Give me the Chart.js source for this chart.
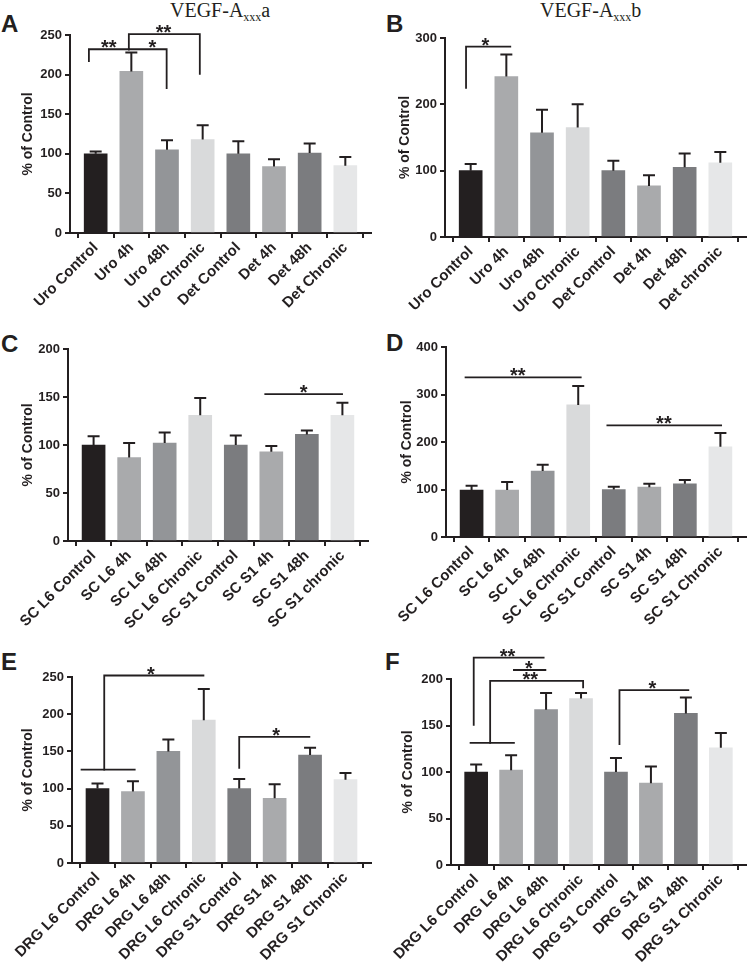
<!DOCTYPE html>
<html><head><meta charset="utf-8">
<script src="https://cdn.jsdelivr.net/npm/chart.js@4.4.1/dist/chart.umd.min.js"></script>
<style>
body{margin:0;background:#fff;width:749px;height:962px;position:relative;overflow:hidden}
canvas{position:absolute}
.lbl{position:absolute;font:bold 24px "Liberation Sans",Arial,sans-serif;color:#231f20;line-height:1}
.ttl{position:absolute;font:20px "Liberation Serif","Times New Roman",serif;color:#231f20;line-height:1;white-space:nowrap}
.ttl sub{font-size:12px;vertical-align:-4px;line-height:0}
</style></head><body>
<div class="lbl" style="left:1px;top:12px">A</div>
<div class="lbl" style="left:386px;top:12px">B</div>
<div class="lbl" style="left:1px;top:332px">C</div>
<div class="lbl" style="left:386px;top:331px">D</div>
<div class="lbl" style="left:1px;top:650px">E</div>
<div class="lbl" style="left:385px;top:650px">F</div>
<div class="ttl" style="left:170px;top:0px">VEGF-A<sub>xxx</sub>a</div>
<div class="ttl" style="left:540px;top:0px">VEGF-A<sub>xxx</sub>b</div>
<canvas id="cA" width="375" height="330" style="left:0;top:0"></canvas>
<canvas id="cB" width="374" height="330" style="left:375px;top:0"></canvas>
<canvas id="cC" width="375" height="310" style="left:0;top:330px"></canvas>
<canvas id="cD" width="374" height="310" style="left:375px;top:330px"></canvas>
<canvas id="cE" width="375" height="322" style="left:0;top:640px"></canvas>
<canvas id="cF" width="374" height="322" style="left:375px;top:640px"></canvas>
<script>
// ---- data ----
const catsA = ['Uro Control','Uro 4h','Uro 48h','Uro Chronic','Det Control','Det 4h','Det 48h','Det Chronic'];
const catsB = ['Uro Control','Uro 4h','Uro 48h','Uro Chronic','Det Control','Det 4h','Det 48h','Det chronic'];
const catsC = ['SC L6 Control','SC L6 4h','SC L6 48h','SC L6 Chronic','SC S1 Control','SC S1 4h','SC S1 48h','SC S1 chronic'];
const catsD = ['SC L6 Control','SC L6 4h','SC L6 48h','SC L6 Chronic','SC S1 Control','SC S1 4h','SC S1 48h','SC S1 Chronic'];
const catsEF = ['DRG L6 Control','DRG L6 4h','DRG L6 48h','DRG L6 Chronic','DRG S1 Control','DRG S1 4h','DRG S1 48h','DRG S1 Chronic'];

const meanA = [100,204,105,118,100,84,101,85];
const semA  = [3,24,12,18,16,9,12,11];
const meanB = [100,242,157,165,100,77,105,112];
const semB  = [10,33,35,35,15,16,21,16];
const meanC = [100,87,102,131,100,93,111,131];
const semC  = [9,15,11,18,10,6,4,13];
const meanD = [99,99,139,278,100,105,112,190];
const semD  = [9,17,13,40,6,7,8,29];
const meanE = [100,96,150,192,100,87,145,112];
const semE  = [7,14,16,42,13,19,10,9];
const meanF = [100,102,167,179,100,88,163,126];
const semF  = [8,16,18,6,15,18,17,16];

const yTicksA = [0,50,100,150,200,250];
const yTicksB = [0,100,200,300];
const yTicksC = [0,50,100,150,200];
const yTicksD = [0,100,200,300,400];
const yTicksE = [0,50,100,150,200,250];
const yTicksF = [0,50,100,150,200];

// significance annotations (category index, value)
const sigA = [
  {x1:-0.19,x2:0.93,y:232,d1:217,t:'**',tx:0.37},
  {x1:0.93,x2:1.99,y:232,d2:183,t:'*',tx:1.59},
  {x1:0.93,x2:2.92,y:251,d1:232,d2:201,t:'**',tx:1.9}
];
const sigB = [{x1:-0.13,x2:1.11,y:287,d1:225,t:'*',tx:0.41}];
const sigC = [{x1:4.83,x2:6.99,y:153,t:'*',tx:5.91}];
const sigD = [{x1:-0.17,x2:3.07,y:336,t:'**',tx:1.3},{x1:3.82,x2:7.02,y:235,t:'**',tx:5.41}];
const sigE = [
  {x1:-0.45,x2:1.05,y:125.4},
  {x1:0.19,x2:2.99,y:252,d1:125.4,t:'*',tx:1.51},
  {x1:4.0,x2:5.98,y:169.6,d1:128,t:'*',tx:5.04}
];
const sigF = [
  {x1:-0.16,x2:1.08,y:131.3},
  {x1:-0.07,x2:1.93,y:223,d1:150.6,t:'**',tx:0.9},
  {x1:1.08,x2:1.98,y:209.7,t:'*',tx:1.51},
  {x1:0.4,x2:3.06,y:198,d1:131.3,d2:191,t:'**',tx:1.55},
  {x1:4.1,x2:6.07,y:188,d1:130,t:'*',tx:5.04}
];

// ---- style ----
const FONT = '"Liberation Sans", Arial, Helvetica, sans-serif';
const INK = '#231f20';
const barColors = ['#231f20','#a9aaac','#939598','#d9dadb','#7b7c7f','#a9aaac','#7b7c7f','#e6e7e8'];

function makeChart(id, cats, means, sems, yTicks, sigs, g){
  const yMax = yTicks[yTicks.length-1];
  const overlay = {
    id:'overlay',
    afterDatasetsDraw(chart){
      const ctx = chart.ctx, xs = chart.scales.x, ys = chart.scales.y;
      const meta = chart.getDatasetMeta(0);
      ctx.save();
      ctx.strokeStyle = INK; ctx.lineWidth = 2; ctx.lineCap = 'butt';
      means.forEach((m,i)=>{
        const x = meta.data[i].x;
        const y0 = ys.getPixelForValue(m), y1 = ys.getPixelForValue(m + sems[i]);
        ctx.beginPath();
        ctx.moveTo(x, y0); ctx.lineTo(x, y1);
        ctx.moveTo(x-6, y1); ctx.lineTo(x+6, y1);
        ctx.stroke();
      });
      ctx.lineWidth = 1.8; ctx.lineCap = 'square';
      ctx.fillStyle = INK;
      ctx.font = 'bold 20px ' + FONT;
      ctx.textAlign = 'center'; ctx.textBaseline = 'alphabetic';
      sigs.forEach(b=>{
        const X1 = xs.getPixelForValue(b.x1), X2 = xs.getPixelForValue(b.x2), Y = ys.getPixelForValue(b.y);
        ctx.beginPath();
        ctx.moveTo(X1, Y); ctx.lineTo(X2, Y);
        if (b.d1 != null){ ctx.moveTo(X1, Y); ctx.lineTo(X1, ys.getPixelForValue(b.d1)); }
        if (b.d2 != null){ ctx.moveTo(X2, Y); ctx.lineTo(X2, ys.getPixelForValue(b.d2)); }
        ctx.stroke();
        if (b.t) ctx.fillText(b.t, xs.getPixelForValue(b.tx), Y + 5);
      });
      ctx.restore();
    }
  };
  return new Chart(document.getElementById(id), {
    type:'bar',
    data:{
      datasets:[{
        data: means.map((v,i)=>({x:i, y:v})),
        backgroundColor: barColors,
        borderWidth: 0,
        barThickness: 23
      }]
    },
    options:{
      responsive:false, animation:false, devicePixelRatio:1,
      layout:{padding:{left:0, top:g.top, right:g.pr, bottom:0}},
      plugins:{legend:{display:false}, tooltip:{enabled:false}},
      scales:{
        x:{
          type:'linear', min:-0.72, max:7.72, offset:false,
          afterBuildTicks: s => { s.ticks = cats.map((_,i)=>({value:i})); },
          afterFit: s => { s.height = g.xh; },
          ticks:{
            autoSkip:false, maxRotation:45, minRotation:45, padding:1,
            color:INK, font:{family:FONT, size:15, weight:'bold'},
            callback: v => cats[v]
          },
          grid:{drawOnChartArea:false, drawTicks:true, tickLength:5, color:INK, lineWidth:2},
          border:{display:true, color:INK, width:2}
        },
        y:{
          min:0, max:yMax,
          afterBuildTicks: s => { s.ticks = yTicks.map(v=>({value:v})); },
          afterFit: s => { s.width = g.left; },
          ticks:{color:INK, font:{family:FONT, size:13, weight:'bold'}, padding:3},
          grid:{drawOnChartArea:false, drawTicks:true, tickLength:5, color:INK, lineWidth:2},
          border:{display:true, color:INK, width:2},
          title:{display:true, text:'% of Control', color:INK,
                 font:{family:FONT, size:14, weight:'bold'}, padding:{top:g.tp, bottom:0}}
        }
      }
    },
    plugins:[overlay]
  });
}

makeChart('cA', catsA, meanA, semA, yTicksA, sigA, {left:70, top:35, pr:4, xh:97, tp:19.6});
makeChart('cB', catsB, meanB, semB, yTicksB, sigB, {left:70, top:38, pr:3, xh:93, tp:22});
makeChart('cC', catsC, meanC, semC, yTicksC, sigC, {left:68, top:19, pr:7, xh:99, tp:19.6});
makeChart('cD', catsD, meanD, semD, yTicksD, sigD, {left:71, top:17, pr:3, xh:103, tp:23.6});
makeChart('cE', catsEF, meanE, semE, yTicksE, sigE, {left:72, top:37, pr:4, xh:99, tp:19.6});
makeChart('cF', catsEF, meanF, semF, yTicksF, sigF, {left:76, top:39, pr:3, xh:97, tp:25});
</script>
</body></html>
